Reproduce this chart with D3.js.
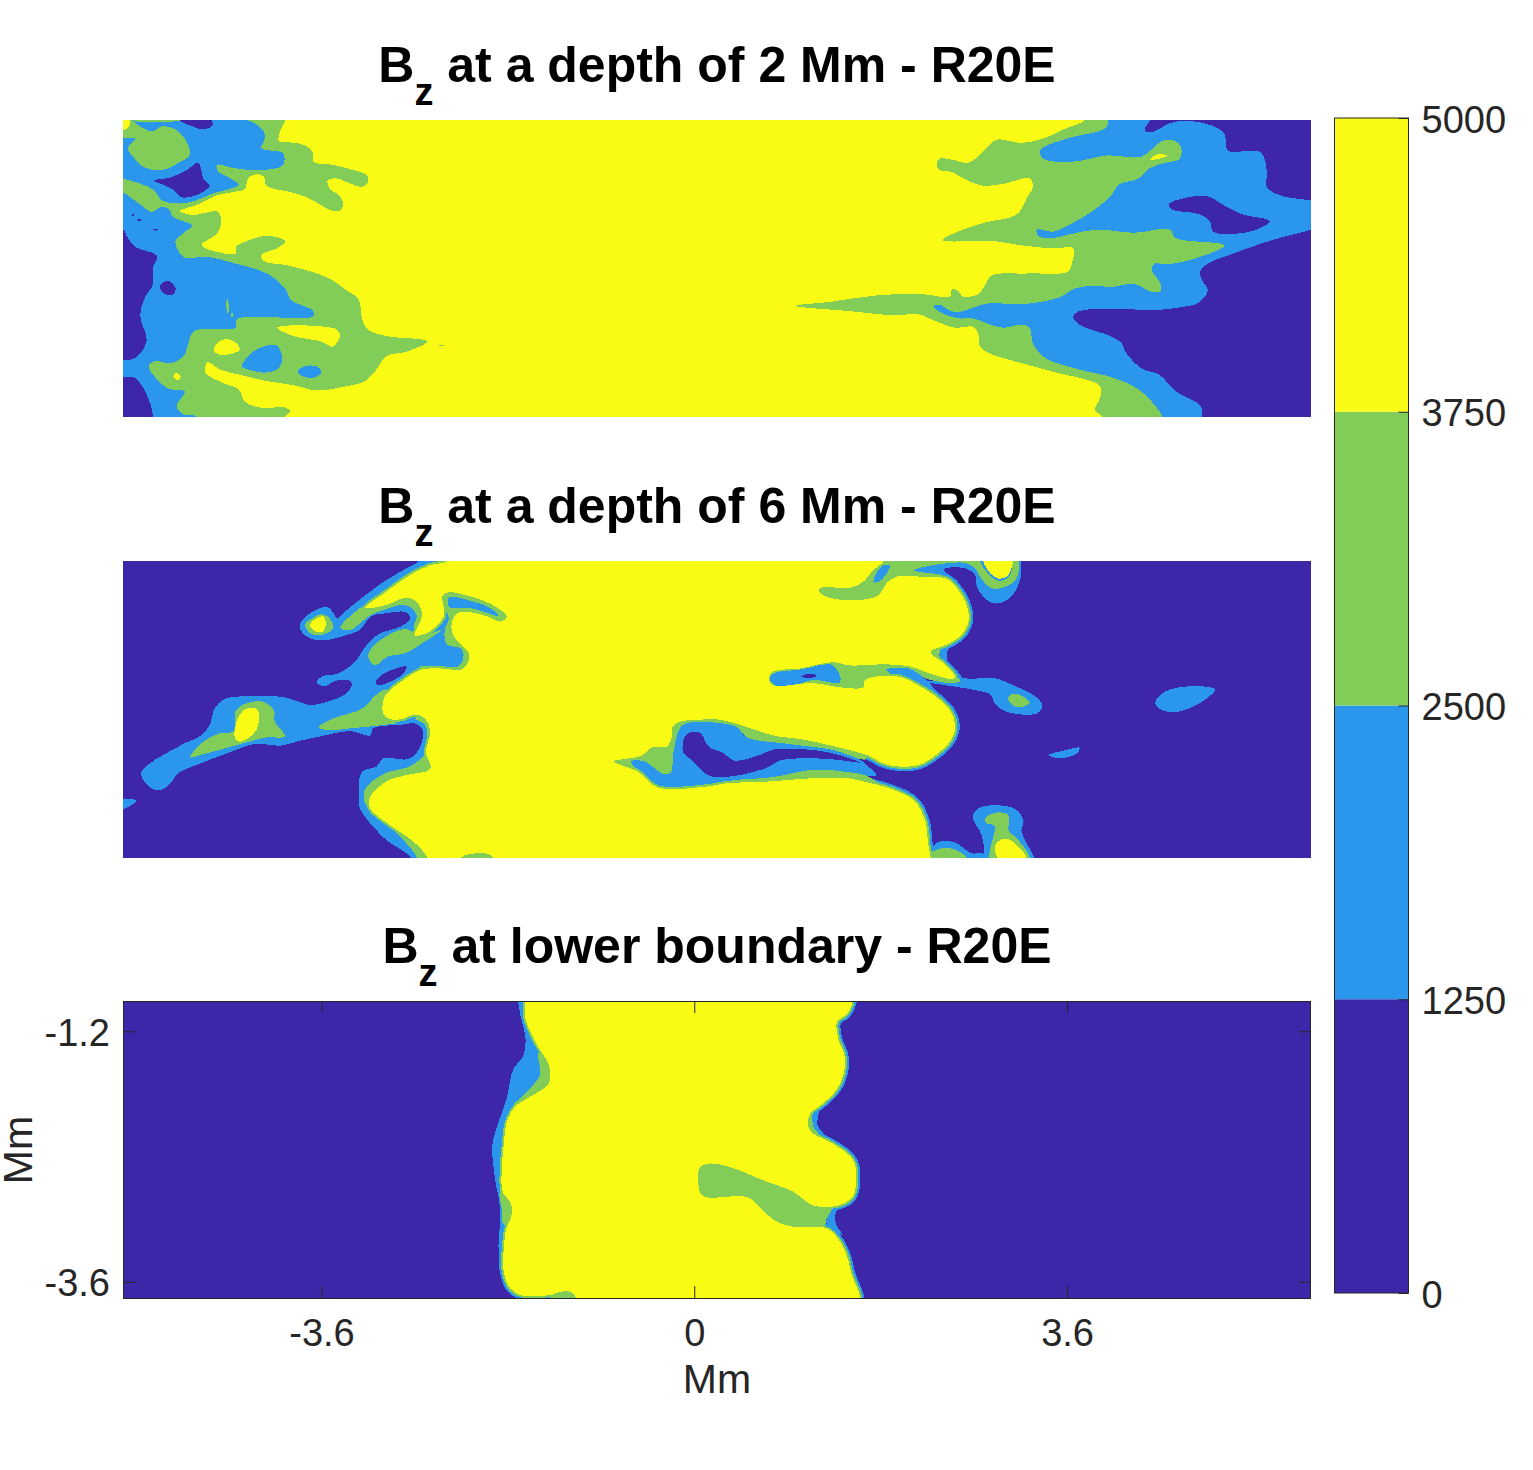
<!DOCTYPE html>
<html>
<head>
<meta charset="utf-8">
<title>Bz maps</title>
<script src="https://cdn.jsdelivr.net/npm/d3@7"></script>
<style>
  body { margin: 0; background: #fff; }
  text { font-family: "Liberation Sans", Arial, sans-serif; fill: #262626; }
  .title { font-weight: bold; fill: #000; }
  .domain { display: none; }
</style>
</head>
<body>
<svg id="chart" width="1533" height="1470"></svg>
<script>
// colour levels of the contour map
const levels = [0, 1250, 2500, 3750, 5000];
const levelColors = ["#3d26a8", "#2a96ec", "#82cd58", "#f9fb15"];
const xTicks = [-3.6, 0, 3.6];
const yTicks = [-1.2, -3.6];
const titles = ["at a depth of 2 Mm - R20E", "at a depth of 6 Mm - R20E", "at lower boundary - R20E"];

// contour outlines, [Mm, Mm]
// depth 2 Mm
const topGreenLeft = [[-3.95,-.91],[-4.00,-1.02],[-4.01,-1.11],[-3.84,-1.13],[-3.73,-1.17],[-3.68,-1.23],[-3.68,-1.31],[-3.49,-1.34],[-3.29,-1.39],[-3.16,-1.44],[-3.15,-1.50],[-3.21,-1.55],[-3.32,-1.52],[-3.45,-1.47],[-3.54,-1.49],[-3.52,-1.57],[-3.42,-1.64],[-3.39,-1.72],[-3.42,-1.78],[-3.52,-1.77],[-3.63,-1.71],[-3.74,-1.65],[-3.90,-1.60],[-4.13,-1.54],[-4.16,-1.45],[-4.24,-1.43],[-4.31,-1.47],[-4.34,-1.57],[-4.45,-1.60],[-4.61,-1.63],[-4.79,-1.72],[-4.97,-1.78],[-4.85,-1.82],[-4.60,-1.79],[-4.57,-1.88],[-4.60,-1.99],[-4.76,-2.11],[-4.58,-2.18],[-4.43,-2.19],[-4.42,-2.12],[-4.32,-2.07],[-4.13,-2.02],[-3.95,-2.07],[-4.03,-2.14],[-4.18,-2.20],[-4.16,-2.26],[-3.94,-2.30],[-3.71,-2.36],[-3.52,-2.43],[-3.36,-2.54],[-3.24,-2.63],[-3.21,-2.81],[-3.15,-2.92],[-2.97,-2.98],[-2.58,-3.03],[-2.78,-3.13],[-2.97,-3.17],[-3.07,-3.30],[-3.18,-3.41],[-3.36,-3.46],[-3.65,-3.50],[-3.87,-3.45],[-4.13,-3.41],[-4.39,-3.35],[-4.58,-3.30],[-4.70,-3.23],[-4.72,-3.33],[-4.55,-3.43],[-4.40,-3.49],[-4.34,-3.61],[-4.16,-3.67],[-3.97,-3.66],[-3.90,-3.70],[-3.95,-3.75],[-3.95,-3.83],[-5.64,-3.83],[-5.64,-.83],[-3.95,-.83]];
const topYellowCorner = [[-5.6,-.85],[-5.46,-.85],[-5.46,-.97],[-5.6,-1.03]];
const topYellowA = [[-4.03,-2.90],[-3.94,-2.88],[-3.58,-2.89],[-3.45,-2.92],[-3.42,-2.98],[-3.49,-3.08],[-3.61,-3.03],[-3.87,-2.98]];
const topYellowB = [[-4.64,-3.12],[-4.59,-3.03],[-4.50,-3.01],[-4.42,-3.05],[-4.39,-3.11],[-4.47,-3.15],[-4.58,-3.16]];
const topYellowC = [[-5.03,-3.37],[-5.00,-3.33],[-4.96,-3.37],[-4.99,-3.40]];
const topGreenTiny = [[-2.46,-3.065],[-2.42,-3.065],[-2.42,-3.075],[-2.46,-3.075]];
const topBlueTop = [[-5.42,-.91],[-4.32,-.91],[-4.16,-1.02],[-4.15,-1.09],[-4.18,-1.18],[-3.97,-1.23],[-3.97,-1.34],[-4.08,-1.38],[-4.26,-1.39],[-4.45,-1.37],[-4.61,-1.34],[-4.60,-1.40],[-4.48,-1.47],[-4.40,-1.53],[-4.48,-1.57],[-4.64,-1.61],[-4.81,-1.68],[-4.97,-1.71],[-5.14,-1.68],[-5.22,-1.58],[-5.35,-1.52],[-5.52,-1.47],[-5.64,-1.43],[-5.64,-.83],[-5.42,-.83]];
const topGreenBlob = [[-5.42,-.91],[-5.24,-1.02],[-5.14,-.97],[-5.01,-1.00],[-4.92,-1.09],[-4.87,-1.24],[-4.98,-1.32],[-5.14,-1.39],[-5.32,-1.36],[-5.42,-1.26],[-5.47,-1.18],[-5.40,-1.09],[-5.52,-1.08],[-5.64,-1.08],[-5.64,-.83],[-5.42,-.83]];
const topDarkA = [[-4.97,-.85],[-4.66,-.85],[-4.66,-.91],[-4.65,-.96],[-4.74,-1.00],[-4.85,-.97],[-4.97,-.91]];
const topDarkB = [[-5.22,-1.49],[-5.06,-1.46],[-4.90,-1.39],[-4.79,-1.32],[-4.74,-1.47],[-4.68,-1.54],[-4.81,-1.63],[-4.95,-1.65],[-5.03,-1.58],[-5.13,-1.53]];
const topBlueMid = [[-5.52,-1.60],[-5.35,-1.72],[-5.24,-1.79],[-5.14,-1.74],[-5.08,-1.76],[-5.03,-1.84],[-4.85,-1.92],[-4.93,-1.99],[-5.01,-2.07],[-4.98,-2.17],[-4.92,-2.23],[-4.71,-2.22],[-4.45,-2.28],[-4.11,-2.39],[-3.94,-2.54],[-3.90,-2.63],[-3.68,-2.74],[-3.68,-2.79],[-4.16,-2.80],[-4.42,-2.82],[-4.43,-2.90],[-4.74,-2.91],[-4.84,-2.94],[-4.89,-3.06],[-4.93,-3.17],[-5.06,-3.24],[-5.21,-3.22],[-5.27,-3.27],[-5.13,-3.45],[-5.06,-3.49],[-4.92,-3.51],[-5.00,-3.65],[-4.93,-3.73],[-4.81,-3.75],[-4.81,-3.83],[-5.64,-3.83],[-5.64,-1.55]];
const topDarkLeft = [[-5.52,-1.96],[-5.47,-2.04],[-5.39,-2.13],[-5.19,-2.21],[-5.23,-2.33],[-5.23,-2.49],[-5.30,-2.60],[-5.35,-2.78],[-5.29,-3.03],[-5.40,-3.19],[-5.52,-3.21],[-5.64,-3.21],[-5.64,-1.96]];
const topDarkCorner = [[-5.52,-3.37],[-5.40,-3.38],[-5.32,-3.48],[-5.24,-3.67],[-5.23,-3.75],[-5.23,-3.83],[-5.64,-3.83],[-5.64,-3.37]];
const topDarkDot = [[-5.16,-2.50],[-5.08,-2.45],[-5.01,-2.52],[-5.03,-2.58],[-5.11,-2.58]];
const topDarkSpeckA = [[-5.43,-1.815],[-5.41,-1.815],[-5.41,-1.825],[-5.43,-1.825]];
const topDarkSpeckB = [[-5.38,-1.865],[-5.34,-1.865],[-5.34,-1.875],[-5.38,-1.875]];
const topDarkSpeckC = [[-5.23,-1.955],[-5.18,-1.955],[-5.18,-1.965],[-5.23,-1.965]];
const topGreenSpeckA = [[-4.515,-2.63],[-4.505,-2.63],[-4.50,-2.76],[-4.51,-2.76]];
const topGreenSpeckB = [[-4.47,-2.76],[-4.46,-2.76],[-4.46,-2.80],[-4.47,-2.80]];
const topBlueHole = [[-4.37,-3.27],[-4.26,-3.13],[-4.16,-3.08],[-4.03,-3.07],[-3.98,-3.21],[-4.03,-3.30],[-4.16,-3.33],[-4.27,-3.31]];
const topBlueHex = [[-3.83,-3.32],[-3.77,-3.27],[-3.65,-3.27],[-3.60,-3.32],[-3.65,-3.37],[-3.77,-3.37]];
const topGreenRight = [[3.77,-.91],[3.59,-.99],[3.36,-1.09],[3.16,-1.13],[2.92,-1.10],[2.79,-1.21],[2.65,-1.32],[2.49,-1.29],[2.37,-1.28],[2.34,-1.34],[2.37,-1.39],[2.49,-1.41],[2.62,-1.48],[2.79,-1.54],[2.99,-1.52],[3.24,-1.47],[3.27,-1.55],[3.21,-1.66],[3.14,-1.79],[3.06,-1.84],[2.82,-1.89],[2.62,-1.95],[2.40,-2.06],[2.89,-2.07],[3.16,-2.11],[3.46,-2.14],[3.66,-2.14],[3.65,-2.27],[3.61,-2.36],[3.22,-2.38],[2.87,-2.40],[2.81,-2.49],[2.74,-2.58],[2.59,-2.60],[2.55,-2.55],[2.49,-2.53],[2.47,-2.60],[2.36,-2.60],[2.22,-2.58],[1.76,-2.59],[1.33,-2.65],[.98,-2.69],[1.49,-2.74],[1.93,-2.78],[2.16,-2.77],[2.29,-2.82],[2.52,-2.90],[2.69,-2.89],[2.74,-2.95],[2.76,-3.08],[2.86,-3.15],[3.09,-3.22],[3.46,-3.32],[3.92,-3.46],[3.92,-3.57],[3.87,-3.69],[3.94,-3.75],[3.94,-3.83],[6.1,-3.83],[6.1,-.83],[3.77,-.83]];
const topBlueRight = [[4.00,-.91],[3.97,-.99],[3.76,-1.05],[3.59,-1.09],[3.34,-1.20],[3.37,-1.28],[3.65,-1.31],[3.99,-1.25],[4.32,-1.26],[4.52,-1.11],[4.64,-1.11],[4.70,-1.17],[4.69,-1.28],[4.55,-1.32],[4.40,-1.37],[4.29,-1.47],[4.10,-1.53],[4.02,-1.64],[3.82,-1.80],[3.59,-1.93],[3.47,-1.98],[3.31,-1.96],[3.32,-2.02],[3.46,-2.04],[3.65,-2.00],[3.89,-1.96],[4.25,-1.99],[4.59,-1.96],[4.65,-2.04],[5.12,-2.11],[4.89,-2.22],[4.59,-2.29],[4.44,-2.29],[4.42,-2.35],[4.50,-2.47],[4.50,-2.55],[4.40,-2.55],[4.25,-2.48],[4.02,-2.51],[3.90,-2.50],[3.69,-2.52],[3.52,-2.61],[3.22,-2.67],[2.82,-2.67],[2.69,-2.71],[2.54,-2.75],[2.46,-2.73],[2.37,-2.68],[2.31,-2.69],[2.39,-2.76],[2.56,-2.81],[2.69,-2.81],[2.86,-2.87],[2.99,-2.90],[3.16,-2.87],[3.24,-2.90],[3.27,-3.05],[3.39,-3.19],[3.72,-3.30],[4.05,-3.38],[4.29,-3.49],[4.42,-3.61],[4.52,-3.75],[4.52,-3.83],[6.1,-3.83],[6.1,-.83],[4.00,-.83]];
const topYellowD = [[4.40,-1.29],[4.47,-1.24],[4.57,-1.25],[4.49,-1.28]];
const topDarkRightA = [[4.40,-.91],[4.35,-1.01],[4.44,-1.02],[4.59,-.94],[4.79,-.92],[4.99,-.96],[5.12,-1.04],[5.15,-1.20],[5.47,-1.22],[5.53,-1.40],[5.53,-1.55],[5.65,-1.63],[5.96,-1.68],[6.1,-1.70],[6.1,-.83],[4.40,-.83]];
const topDarkRightB = [[4.58,-1.72],[4.65,-1.68],[4.95,-1.64],[5.12,-1.73],[5.28,-1.81],[5.56,-1.88],[5.43,-1.96],[5.22,-2.00],[5.01,-1.98],[4.98,-1.88],[4.87,-1.81],[4.62,-1.77]];
const topDarkRightC = [[5.96,-1.96],[5.58,-2.06],[5.12,-2.22],[4.99,-2.27],[4.89,-2.35],[4.90,-2.44],[4.96,-2.54],[4.87,-2.66],[4.72,-2.70],[4.45,-2.73],[4.09,-2.72],[3.72,-2.74],[3.66,-2.79],[3.72,-2.87],[4.02,-2.98],[4.12,-3.04],[4.17,-3.14],[4.32,-3.29],[4.49,-3.35],[4.65,-3.51],[4.89,-3.65],[4.90,-3.75],[4.90,-3.83],[6.1,-3.83],[6.1,-1.91]];

// depth 6 Mm
const midBlueLeft = [[-5.34,-2.94],[-5.26,-2.85],[-5.13,-2.77],[-4.93,-2.66],[-4.76,-2.58],[-4.68,-2.48],[-4.63,-2.32],[-4.55,-2.24],[-4.42,-2.21],[-4.00,-2.21],[-3.87,-2.24],[-3.71,-2.29],[-3.55,-2.26],[-3.36,-2.18],[-3.31,-2.11],[-3.32,-2.06],[-3.44,-2.05],[-3.58,-2.11],[-3.65,-2.07],[-3.58,-2.01],[-3.45,-1.99],[-3.29,-1.89],[-3.16,-1.71],[-3.05,-1.61],[-2.84,-1.54],[-2.74,-1.46],[-2.79,-1.40],[-2.97,-1.41],[-3.12,-1.44],[-3.23,-1.57],[-3.36,-1.62],[-3.58,-1.67],[-3.71,-1.65],[-3.79,-1.59],[-3.81,-1.52],[-3.71,-1.41],[-3.55,-1.35],[-3.49,-1.40],[-3.45,-1.46],[-3.39,-1.41],[-3.18,-1.24],[-2.97,-1.09],[-2.78,-.98],[-2.66,-.91],[-2.66,-.85],[-2.1,-.85],[-2.1,-2.4],[-2.70,-2.46],[-2.84,-2.48],[-3.10,-2.51],[-3.13,-2.58],[-3.32,-2.54],[-3.61,-2.59],[-3.84,-2.64],[-4.00,-2.68],[-4.23,-2.66],[-4.48,-2.74],[-4.77,-2.85],[-4.98,-2.94],[-5.06,-3.04],[-5.14,-3.10],[-5.22,-3.10],[-5.30,-3.04]];
const midBlueLow = [[-2.70,-2.46],[-2.63,-2.51],[-2.63,-2.64],[-2.70,-2.77],[-2.78,-2.81],[-3.00,-2.80],[-3.07,-2.88],[-3.21,-2.93],[-3.24,-3.18],[-3.23,-3.28],[-3.00,-3.56],[-2.74,-3.75],[-2.74,-3.82],[-2.3,-3.82],[-2.3,-2.4]];
const midBlueEdge = [[-5.52,-3.19],[-5.42,-3.19],[-5.39,-3.21],[-5.52,-3.29],[-5.64,-3.32],[-5.64,-3.19]];
const midBlueBay = [[-.61,-2.83],[-.48,-2.83],[-.30,-2.95],[-.23,-2.94],[-.20,-2.74],[-.14,-2.48],[.22,-2.45],[.41,-2.50],[.51,-2.60],[.89,-2.66],[1.34,-2.72],[1.63,-2.83],[1.67,-2.87],[1.76,-2.96],[1.60,-2.97],[1.15,-2.96],[.76,-3.01],[.31,-3.02],[.12,-3.07],[-.35,-3.07]];
const midBlueBlob = [[2.55,-2.02],[2.65,-2.04],[2.89,-2.03],[3.08,-2.10],[3.31,-2.22],[3.36,-2.30],[3.31,-2.37],[3.00,-2.35],[2.90,-2.27],[2.86,-2.19],[2.73,-2.15],[2.21,-2.06],[2.47,-2.05]];
const midBlueLobe = [[2.37,-1.76],[2.45,-1.71],[2.44,-1.81],[2.45,-1.89],[2.58,-2.02],[2.55,-2.07],[2.50,-2.04],[2.41,-1.89]];
const midBlueTop = [[2.12,-1.00],[2.37,-.91],[2.37,-.83],[3.16,-.83],[3.16,-.91],[3.15,-1.08],[3.07,-1.24],[2.97,-1.31],[2.87,-1.31],[2.79,-1.25],[2.73,-1.16],[2.71,-1.04],[2.62,-.98],[2.41,-.99],[2.55,-1.11],[2.41,-1.05]];
const midBlueFoot = [[2.69,-3.37],[2.74,-3.28],[2.92,-3.25],[3.11,-3.29],[3.18,-3.40],[3.16,-3.50],[3.29,-3.77],[3.29,-3.85],[2.60,-3.85],[2.79,-3.74],[2.79,-3.60],[2.76,-3.50]];
const midBlueStrip = [[2.26,-3.77],[2.34,-3.61],[2.50,-3.60],[2.68,-3.71],[2.79,-3.71],[2.79,-3.79],[2.26,-3.79]];
const midBlueFarA = [[4.45,-2.27],[4.55,-2.16],[4.79,-2.11],[5.03,-2.14],[4.93,-2.24],[4.69,-2.35],[4.52,-2.34]];
const midBlueFarB = [[3.42,-2.77],[3.55,-2.73],[3.72,-2.70],[3.70,-2.75],[3.53,-2.80]];
const midGreenStripeA = [[-3.42,-1.55],[-3.29,-1.41],[-3.15,-1.32],[-2.78,-1.25],[-2.67,-1.30],[-2.62,-1.44],[-2.68,-1.62],[-2.71,-1.54],[-2.68,-1.44],[-2.73,-1.36],[-2.81,-1.33],[-3.00,-1.38],[-3.13,-1.43],[-3.23,-1.51],[-3.32,-1.57]];
const midGreenRing = [[-3.76,-1.52],[-3.69,-1.46],[-3.60,-1.42],[-3.52,-1.46],[-3.49,-1.56],[-3.61,-1.62],[-3.71,-1.60]];
const midGreenStripeB = [[-3.15,-1.81],[-3.05,-1.68],[-2.78,-1.56],[-2.68,-1.62],[-2.60,-1.62],[-2.44,-1.57],[-2.63,-1.70],[-2.78,-1.79],[-2.97,-1.83],[-3.08,-1.91],[-3.13,-1.87]];
const midGreenArc = [[-2.43,-1.23],[-2.37,-1.21],[-2.16,-1.24],[-1.97,-1.31],[-1.80,-1.45],[-1.87,-1.50],[-2.00,-1.45],[-2.16,-1.40],[-2.29,-1.42],[-2.34,-1.49],[-2.33,-1.62],[-2.17,-1.79],[-2.17,-1.88],[-2.25,-1.96],[-2.44,-1.95],[-2.63,-1.96],[-2.65,-1.92],[-2.28,-1.92],[-2.23,-1.84],[-2.25,-1.75],[-2.39,-1.71],[-2.41,-1.57],[-2.37,-1.46],[-2.43,-1.33]];
const midGreenLow = [[-3.63,-2.50],[-3.49,-2.42],[-3.20,-2.32],[-3.07,-2.19],[-2.97,-2.14],[-2.87,-2.22],[-2.87,-2.45],[-3.00,-2.48],[-3.29,-2.51],[-3.55,-2.53]];
const midGreenFlank = [[-2.70,-2.42],[-2.60,-2.48],[-2.59,-2.74],[-2.70,-2.85],[-2.78,-2.89],[-3.00,-2.95],[-3.18,-3.10],[-3.18,-3.23],[-2.97,-3.42],[-2.68,-3.75],[-2.68,-3.82],[-2.3,-3.82],[-2.3,-2.4]];
const midGreenTail = [[-4.87,-2.79],[-4.74,-2.64],[-4.58,-2.56],[-4.45,-2.54],[-4.43,-2.35],[-4.32,-2.27],[-4.16,-2.26],[-4.06,-2.34],[-4.05,-2.45],[-3.95,-2.59],[-4.13,-2.60],[-4.26,-2.63],[-4.48,-2.69],[-4.74,-2.76]];
const midGreenBay = [[-.78,-2.83],[-.52,-2.78],[-.40,-2.69],[-.27,-2.69],[-.21,-2.50],[-.14,-2.45],[.05,-2.43],[.25,-2.43],[.44,-2.48],[.76,-2.58],[1.05,-2.62],[1.41,-2.70],[1.67,-2.77],[1.65,-2.81],[1.34,-2.72],[.89,-2.66],[.51,-2.60],[.41,-2.50],[.22,-2.46],[-.06,-2.46],[-.14,-2.51],[-.20,-2.74],[-.23,-2.94],[-.30,-2.95],[-.48,-2.83],[-.61,-2.83],[-.43,-3.02],[-.35,-3.08],[-.54,-2.94]];
const midGreenBayLow = [[.12,-3.08],[.31,-3.02],[.76,-2.98],[1.15,-2.91],[1.47,-2.93],[1.67,-2.97],[1.86,-3.09],[1.92,-3.10],[1.63,-3.02],[1.15,-2.99],[.76,-3.02],[.31,-3.05]];
const midGreenNotch = [[.72,-2.03],[.76,-1.97],[1.02,-1.94],[1.34,-1.88],[1.50,-1.91],[1.86,-1.90],[2.08,-1.92],[2.31,-2.00],[2.50,-2.04],[2.57,-2.06],[2.50,-2.08],[2.25,-2.04],[2.08,-1.96],[1.86,-1.95],[1.92,-2.03],[1.67,-2.04],[1.63,-2.12],[1.41,-2.12],[1.15,-2.08],[.89,-2.10],[.76,-2.10]];
const midGreenWedge = [[2.28,-1.78],[2.37,-1.75],[2.37,-1.83],[2.50,-1.97],[2.57,-2.06],[2.50,-2.04],[2.41,-1.91]];
const midGreenTop = [[1.20,-1.19],[1.25,-1.16],[1.50,-1.17],[1.63,-1.11],[1.73,-.997],[1.83,-.91],[1.83,-.83],[2.76,-.83],[2.76,-.91],[2.84,-1.03],[2.94,-1.10],[3.05,-1.05],[3.08,-.91],[3.13,-.91],[3.11,-1.08],[3.00,-1.16],[2.87,-1.17],[2.78,-1.09],[2.71,-.98],[2.62,-.93],[2.37,-.94],[2.12,-1.00],[2.41,-1.05],[2.50,-1.11],[2.18,-1.06],[1.95,-1.06],[1.86,-1.12],[1.76,-1.25],[1.41,-1.28],[1.25,-1.24]];
const midGreenFoot = [[2.81,-3.37],[2.92,-3.32],[3.03,-3.34],[3.04,-3.50],[3.11,-3.56],[3.24,-3.77],[2.86,-3.77],[2.90,-3.45],[2.82,-3.42]];
const midGreenFootStrip = [[2.28,-3.77],[2.31,-3.69],[2.46,-3.66],[2.60,-3.72],[2.63,-3.77]];
const midGreenBottom = [[-2.25,-3.75],[-2.02,-3.71],[-1.94,-3.75],[-1.94,-3.85],[-2.25,-3.85]];
const midYellow = [[-2.39,-.91],[-2.55,-.95],[-2.74,-1.04],[-2.97,-1.20],[-3.18,-1.36],[-2.97,-1.33],[-2.78,-1.26],[-2.68,-1.30],[-2.63,-1.43],[-2.70,-1.62],[-2.58,-1.60],[-2.42,-1.44],[-2.43,-1.24],[-2.37,-1.21],[-2.16,-1.25],[-1.97,-1.32],[-1.81,-1.44],[-1.87,-1.49],[-2.00,-1.44],[-2.16,-1.40],[-2.29,-1.41],[-2.34,-1.49],[-2.33,-1.62],[-2.18,-1.79],[-2.18,-1.87],[-2.25,-1.95],[-2.44,-1.94],[-2.63,-1.95],[-2.81,-2.05],[-2.99,-2.21],[-3.00,-2.38],[-2.91,-2.43],[-2.81,-2.42],[-2.70,-2.38],[-2.60,-2.42],[-2.55,-2.53],[-2.59,-2.74],[-2.55,-2.90],[-2.78,-2.96],[-2.97,-3.02],[-3.13,-3.17],[-3.13,-3.28],[-2.94,-3.44],[-2.71,-3.60],[-2.58,-3.75],[-2.58,-3.83],[2.28,-3.82],[2.28,-3.74],[2.26,-3.63],[2.23,-3.40],[2.13,-3.21],[1.92,-3.10],[1.63,-3.02],[1.47,-2.99],[1.15,-2.99],[.76,-3.02],[.31,-3.04],[.12,-3.07],[-.35,-3.08],[-.54,-2.93],[-.72,-2.86],[-.78,-2.83],[-.52,-2.78],[-.46,-2.74],[-.40,-2.69],[-.27,-2.69],[-.22,-2.61],[-.21,-2.50],[-.14,-2.45],[.05,-2.43],[.25,-2.43],[.44,-2.48],[.76,-2.58],[1.05,-2.62],[1.41,-2.70],[1.67,-2.77],[1.83,-2.85],[1.99,-2.88],[2.18,-2.86],[2.37,-2.74],[2.49,-2.61],[2.52,-2.48],[2.47,-2.34],[2.31,-2.19],[2.18,-2.11],[1.99,-2.02],[1.73,-2.02],[1.65,-2.05],[1.63,-2.12],[1.41,-2.12],[1.15,-2.08],[.89,-2.10],[.76,-2.10],[.72,-2.03],[.76,-1.97],[1.02,-1.94],[1.34,-1.88],[1.50,-1.91],[1.86,-1.90],[2.08,-1.92],[2.31,-2.00],[2.50,-2.04],[2.52,-2.02],[2.41,-1.89],[2.28,-1.78],[2.44,-1.71],[2.58,-1.62],[2.65,-1.48],[2.63,-1.33],[2.53,-1.16],[2.44,-1.08],[2.18,-1.06],[1.95,-1.06],[1.86,-1.12],[1.76,-1.25],[1.41,-1.28],[1.25,-1.24],[1.20,-1.19],[1.25,-1.16],[1.50,-1.17],[1.63,-1.11],[1.73,-.997],[1.83,-.91],[1.83,-.83],[-2.39,-.83]];
const midYellowRing = [[-3.71,-1.52],[-3.65,-1.46],[-3.58,-1.44],[-3.56,-1.52],[-3.59,-1.59],[-3.67,-1.58]];
const midYellowTail = [[-4.44,-2.59],[-4.39,-2.38],[-4.31,-2.32],[-4.22,-2.33],[-4.22,-2.51],[-4.31,-2.61],[-4.40,-2.64]];
const midYellowTop = [[2.79,-.91],[2.86,-1.03],[2.94,-1.08],[3.03,-1.05],[3.08,-.91],[3.08,-.83],[2.79,-.83]];
const midYellowFoot = [[2.91,-3.63],[2.99,-3.57],[3.08,-3.60],[3.21,-3.77],[2.94,-3.77]];
const midBlueArcStrip = [[-2.37,-1.26],[-2.13,-1.30],[-1.97,-1.36],[-1.89,-1.44],[-2.02,-1.40],[-2.17,-1.36],[-2.31,-1.36],[-2.37,-1.35]];
const midBlueNotch = [[.73,-2.04],[.76,-1.99],[1.02,-1.95],[1.34,-1.91],[1.41,-2.07],[1.15,-2.05],[.99,-2.09],[.78,-2.10]];
const midBlueWedge = [[1.85,-1.95],[2.07,-1.94],[2.23,-2.04],[2.34,-2.17],[2.18,-2.08],[2.00,-2.00]];
const midBlueOval = [[1.73,-1.11],[1.81,-.96],[1.89,-.95],[1.87,-1.01],[1.78,-1.11]];
const midGreenOval = [[3.03,-2.22],[3.08,-2.18],[3.18,-2.21],[3.24,-2.27],[3.15,-2.31],[3.07,-2.29]];
const midDarkIsle = [[-3.08,-2.07],[-3.00,-1.99],[-2.78,-1.92],[-2.81,-1.99],[-2.97,-2.08],[-3.05,-2.10]];
const midDarkFinger = [[-.11,-2.74],[-.09,-2.59],[-.04,-2.55],[.06,-2.56],[.14,-2.69],[.28,-2.75],[.38,-2.82],[.54,-2.80],[.70,-2.74],[.80,-2.71],[1.28,-2.74],[1.60,-2.84],[1.34,-2.81],[1.09,-2.80],[.83,-2.82],[.70,-2.89],[.38,-2.97],[.15,-2.97],[.02,-2.86],[-.07,-2.78]];
const midDarkTip = [[1.03,-2.02],[1.09,-1.99],[1.17,-2.00],[1.17,-2.02]];

// lower boundary
const lowBlueLeft = [[-1.70,-.92],[-1.68,-1.04],[-1.63,-1.27],[-1.65,-1.43],[-1.75,-1.57],[-1.81,-1.84],[-1.91,-2.13],[-1.95,-2.29],[-1.92,-2.64],[-1.88,-2.86],[-1.88,-3.09],[-1.89,-3.28],[-1.84,-3.60],[-1.71,-3.76],[-1.71,-3.85],[-1.4,-3.85],[-1.4,-.82],[-1.70,-.82]];
const lowBlueGap = [[1.28,-2.99],[1.34,-2.89],[1.39,-2.88],[1.36,-2.96],[1.37,-3.05],[1.43,-3.15],[1.34,-3.10],[1.28,-3.05]];
const lowBlueDent = [[1.15,-1.97],[1.20,-1.95],[1.19,-2.10],[1.25,-2.19],[1.15,-2.18]];
const lowGreenBig = [[-1.50,-1.40],[-1.49,-1.62],[-1.65,-1.81],[-1.76,-1.94],[-1.4,-2.1],[-1.2,-1.5]];
const lowGreenBump = [[-1.87,-2.73],[-1.86,-2.89],[-1.84,-3.05],[-1.6,-3.05],[-1.6,-2.73]];
const lowGreenDent = [[1.22,-1.91],[1.15,-1.97],[1.15,-2.11],[1.20,-2.19],[1.15,-2.19],[1.09,-2.11],[1.12,-1.99]];
const lowGreenNotch = [[.05,-2.51],[.12,-2.47],[.31,-2.49],[.67,-2.63],[.96,-2.74],[1.15,-2.87],[1.34,-2.87],[1.28,-2.99],[1.25,-3.08],[.94,-3.07],[.77,-3.01],[.65,-2.90],[.51,-2.79],[.12,-2.79],[.06,-2.75]];
const lowGreenBottom = [[-1.39,-3.75],[-1.34,-3.71],[-1.23,-3.69],[-1.17,-3.71],[-1.15,-3.75],[-1.15,-3.85],[-1.39,-3.85]];
const lowYellow = [[-1.63,-.92],[-1.63,-1.08],[-1.52,-1.33],[-1.41,-1.51],[-1.39,-1.62],[-1.41,-1.71],[-1.59,-1.83],[-1.73,-1.92],[-1.81,-2.07],[-1.84,-2.29],[-1.86,-2.54],[-1.85,-2.74],[-1.77,-2.85],[-1.77,-2.99],[-1.81,-3.07],[-1.84,-3.28],[-1.84,-3.50],[-1.78,-3.66],[-1.67,-3.73],[-1.39,-3.73],[-1.15,-3.74],[-1.15,-3.82],[1.59,-3.82],[1.60,-3.74],[1.52,-3.53],[1.46,-3.31],[1.34,-3.13],[1.25,-3.08],[.94,-3.07],[.77,-3.01],[.65,-2.90],[.51,-2.79],[.12,-2.79],[.06,-2.75],[.05,-2.51],[.12,-2.47],[.31,-2.49],[.67,-2.63],[.96,-2.74],[1.15,-2.87],[1.39,-2.87],[1.51,-2.81],[1.55,-2.74],[1.56,-2.51],[1.51,-2.40],[1.31,-2.26],[1.15,-2.18],[1.10,-2.11],[1.12,-1.99],[1.22,-1.91],[1.36,-1.78],[1.44,-1.62],[1.45,-1.43],[1.39,-1.27],[1.38,-1.11],[1.47,-1.04],[1.52,-.95],[1.52,-.82],[-1.63,-.82]];

const panelTops = [120, 561, 1001];
const panelHeight = 297;
const left = 123, right = 1311;

const svg = d3.select("#chart");

const x = d3.scaleLinear().domain([-5.517, 5.956]).range([left, right]);
const color = d3.scaleThreshold().domain(levels.slice(1, -1)).range(levelColors);
const DARK = 600, BLUE = 1900, GREEN = 3100, YELLOW = 4400;

// paint order, bottom to top. third item makes a thin rim round a shape
const topLayers = [
  [GREEN, topGreenLeft], [GREEN, topGreenRight],
  [BLUE, topBlueTop], [BLUE, topBlueMid], [BLUE, topBlueRight],
  [GREEN, topGreenBlob], [GREEN, topGreenSpeckA], [GREEN, topGreenSpeckB], [GREEN, topGreenTiny],
  [DARK, topDarkA], [DARK, topDarkB], [DARK, topDarkLeft], [DARK, topDarkCorner], [DARK, topDarkDot],
  [DARK, topDarkSpeckA], [DARK, topDarkSpeckB], [DARK, topDarkSpeckC],
  [DARK, topDarkRightA], [DARK, topDarkRightB], [DARK, topDarkRightC],
  [BLUE, topBlueHole], [BLUE, topBlueHex],
  [YELLOW, topYellowCorner], [YELLOW, topYellowA], [YELLOW, topYellowB], [YELLOW, topYellowC], [YELLOW, topYellowD]
];
const midLayers = [
  [BLUE, midBlueLeft], [BLUE, midBlueLow], [BLUE, midBlueEdge], [BLUE, midBlueBay], [BLUE, midBlueBlob],
  [BLUE, midBlueLobe], [BLUE, midBlueTop], [BLUE, midBlueFoot], [BLUE, midBlueStrip],
  [BLUE, midBlueFarA], [BLUE, midBlueFarB],
  [BLUE, midYellow, 9],
  [GREEN, midGreenStripeA], [GREEN, midGreenRing], [GREEN, midGreenStripeB], [GREEN, midGreenArc], [GREEN, midGreenLow],
  [GREEN, midGreenFlank], [GREEN, midGreenTail], [GREEN, midGreenBay], [GREEN, midGreenBayLow], [GREEN, midGreenNotch],
  [GREEN, midGreenWedge], [GREEN, midGreenTop], [GREEN, midGreenFoot], [GREEN, midGreenFootStrip],
  [GREEN, midYellow, 4.5],
  [YELLOW, midYellow],
  [GREEN, midGreenBottom], [GREEN, midGreenOval],
  [BLUE, midBlueArcStrip], [BLUE, midBlueNotch], [BLUE, midBlueWedge], [BLUE, midBlueOval],
  [DARK, midDarkIsle], [DARK, midDarkFinger], [DARK, midDarkTip],
  [YELLOW, midYellowRing], [YELLOW, midYellowTail], [YELLOW, midYellowTop], [YELLOW, midYellowFoot]
];
const lowLayers = [
  [BLUE, lowBlueLeft], [BLUE, lowBlueGap], [BLUE, lowBlueDent],
  [BLUE, lowYellow, 8],
  [GREEN, lowGreenBig], [GREEN, lowGreenBump], [GREEN, lowGreenDent], [GREEN, lowGreenNotch],
  [GREEN, lowYellow, 4],
  [YELLOW, lowYellow],
  [GREEN, lowGreenBottom]
];
const panels = [
  { base: YELLOW, layers: topLayers },
  { base: DARK, layers: midLayers },
  { base: DARK, layers: lowLayers }
];

panels.forEach((panel, i) => {
  const top = panelTops[i];
  const y = d3.scaleLinear().domain([-0.91, -3.755]).range([top, top + panelHeight]);
  const line = d3.line()
      .x(d => x(d[0]))
      .y(d => y(d[1]))
      .curve(d3.curveCatmullRomClosed.alpha(0.5));

  svg.append("clipPath").attr("id", "clip" + i)
      .append("rect")
      .attr("x", left).attr("y", top)
      .attr("width", right - left).attr("height", panelHeight);

  const g = svg.append("g").attr("clip-path", `url(#clip${i})`);

  g.append("rect")
      .attr("x", left).attr("y", top)
      .attr("width", right - left).attr("height", panelHeight)
      .attr("fill", color(panel.base));

  g.selectAll("path")
      .data(panel.layers)
      .enter()
      .append("path")
      .attr("d", d => line(d[1]))
      .attr("fill", d => d[2] ? "none" : color(d[0]))
      .attr("stroke", d => d[2] ? color(d[0]) : "none")
      .attr("stroke-width", d => d[2] || 0)
      .attr("stroke-linejoin", "round")
      .attr("shape-rendering", "crispEdges");

  // title with subscript z
  const title = svg.append("text")
      .attr("class", "title")
      .attr("x", 717)
      .attr("y", top - 38)
      .attr("text-anchor", "middle")
      .style("font-size", "50px");
  title.append("tspan").text("B");
  title.append("tspan").attr("dy", 23).style("font-size", "38px").text("z");
  title.append("tspan").attr("dy", -23).text(" " + titles[i]);

  // only the bottom panel keeps its axes
  if (i === 2) {
    const fmt = d => String(d);
    svg.append("g")
        .attr("transform", `translate(0,${top + panelHeight})`)
        .call(d3.axisBottom(x).tickValues(xTicks).tickFormat(fmt).tickSize(-12).tickPadding(0))
        .call(styleAxis)
        .selectAll("text").attr("dy", 0).attr("y", 48);
    svg.append("g")
        .attr("transform", `translate(0,${top})`)
        .call(d3.axisTop(x).tickValues(xTicks).tickFormat("").tickSize(-12))
        .call(styleAxis);
    svg.append("g")
        .attr("transform", `translate(${left},0)`)
        .call(d3.axisLeft(y).tickValues(yTicks).tickFormat(fmt).tickSize(-12).tickPadding(13))
        .call(styleAxis)
        .selectAll("text").attr("dy", "0.37em");
    svg.append("g")
        .attr("transform", `translate(${right},0)`)
        .call(d3.axisRight(y).tickValues(yTicks).tickFormat("").tickSize(-12))
        .call(styleAxis);
    svg.append("rect")
        .attr("x", left + 0.5).attr("y", top + 0.5)
        .attr("width", right - left - 1).attr("height", panelHeight)
        .attr("fill", "none").attr("stroke", "#262626");

    svg.append("text")
        .attr("x", 717).attr("y", 1393)
        .attr("text-anchor", "middle")
        .style("font-size", "41px")
        .text("Mm");
    svg.append("text")
        .attr("text-anchor", "middle")
        .attr("transform", "translate(32,1150) rotate(-90)")
        .style("font-size", "41px")
        .text("Mm");
  }
});

function styleAxis(sel) {
  sel.selectAll("line").attr("stroke", "#262626");
  sel.selectAll("text").style("font-size", "38px").attr("fill", "#262626");
  sel.attr("font-family", null).attr("font-size", null);
}

// colorbar
const barX = 1334.5, barW = 74;
const barY = d3.scaleLinear().domain([0, 5000]).range([1293, 118]);
svg.append("g").selectAll("rect")
    .data(levelColors)
    .enter()
    .append("rect")
    .attr("x", barX)
    .attr("y", (d, i) => barY(levels[i + 1]))
    .attr("width", barW)
    .attr("height", (d, i) => barY(levels[i]) - barY(levels[i + 1]))
    .attr("fill", d => d);
svg.append("rect")
    .attr("x", barX).attr("y", barY(5000))
    .attr("width", barW).attr("height", barY(0) - barY(5000))
    .attr("fill", "none").attr("stroke", "#262626");
svg.append("g")
    .attr("transform", `translate(${barX + barW},0)`)
    .call(d3.axisRight(barY).tickValues(levels).tickFormat(d => String(d)).tickSize(-10).tickPadding(13))
    .call(styleAxis)
    .selectAll("text").attr("dy", "0.37em");
</script>
</body>
</html>
